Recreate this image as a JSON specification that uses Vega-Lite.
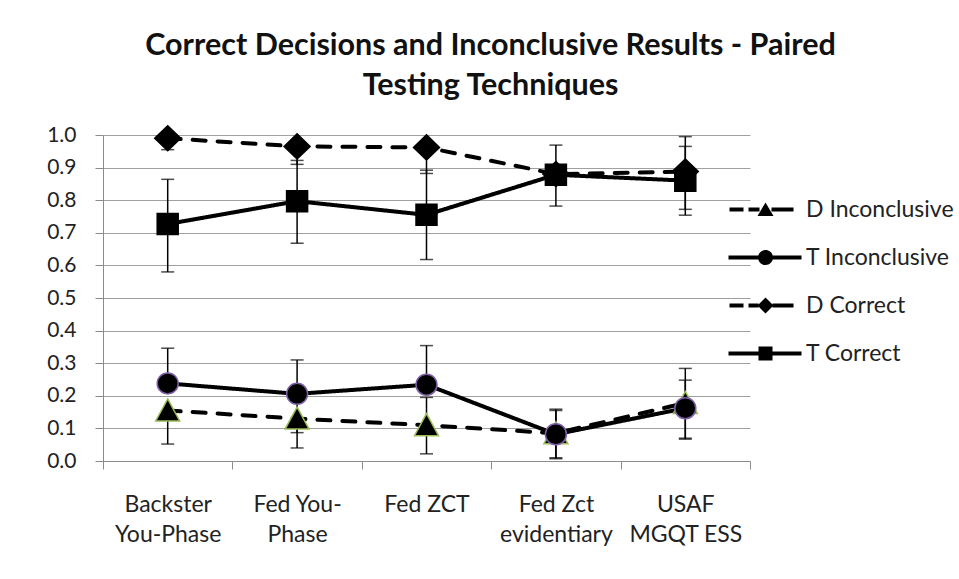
{
  "$schema": "https://vega.github.io/schema/vega-lite/v6.json",
  "width": 647,
  "height": 326,
  "autosize": {"type": "none"},
  "padding": {"left": 103, "top": 135, "right": 209, "bottom": 118},
  "background": "white",
  "title": {
    "text": ["Correct Decisions and Inconclusive Results - Paired", "Testing Techniques"],
    "font": "Lato", "fontSize": 30.5, "fontWeight": "bold", "color": "#111",
    "lineHeight": 40, "anchor": "middle", "frame": "group", "dx": 64, "offset": 21
  },
  "config": {
    "view": {"stroke": null},
    "axis": {"labelFont": "Lato", "labelFontSize": 23, "labelColor": "#222", "domainColor": "#8c8c8c", "tickColor": "#8c8c8c", "title": null},
    "axisY": {"labelFontSize": 21, "tickCount": 20, "labelOverlap": false, "tickSize": 8, "labelPadding": 19, "grid": true, "gridColor": "#a0a0a0", "gridWidth": 1}
  },
  "data": {
    "values": [
      {"cat": "Backster|You-Phase", "series": "D Inconclusive", "v": 0.155, "lo": 0.052, "hi": 0.155},
      {"cat": "Fed You-|Phase", "series": "D Inconclusive", "v": 0.13, "lo": 0.04, "hi": 0.13},
      {"cat": "Fed ZCT", "series": "D Inconclusive", "v": 0.11, "lo": 0.022, "hi": 0.195},
      {"cat": "Fed Zct|evidentiary", "series": "D Inconclusive", "v": 0.085, "lo": 0.01, "hi": 0.155},
      {"cat": "USAF|MGQT ESS", "series": "D Inconclusive", "v": 0.178, "lo": 0.07, "hi": 0.284},
      {"cat": "Backster|You-Phase", "series": "T Inconclusive", "v": 0.238, "lo": 0.238, "hi": 0.346},
      {"cat": "Fed You-|Phase", "series": "T Inconclusive", "v": 0.206, "lo": 0.087, "hi": 0.31},
      {"cat": "Fed ZCT", "series": "T Inconclusive", "v": 0.234, "lo": 0.234, "hi": 0.354},
      {"cat": "Fed Zct|evidentiary", "series": "T Inconclusive", "v": 0.082, "lo": 0.007, "hi": 0.159},
      {"cat": "USAF|MGQT ESS", "series": "T Inconclusive", "v": 0.162, "lo": 0.067, "hi": 0.248},
      {"cat": "Backster|You-Phase", "series": "D Correct", "v": 0.99, "lo": 0.955, "hi": 0.99},
      {"cat": "Fed You-|Phase", "series": "D Correct", "v": 0.965, "lo": 0.91, "hi": 0.965},
      {"cat": "Fed ZCT", "series": "D Correct", "v": 0.962, "lo": 0.882, "hi": 0.962},
      {"cat": "Fed Zct|evidentiary", "series": "D Correct", "v": 0.88, "lo": 0.88, "hi": 0.88},
      {"cat": "USAF|MGQT ESS", "series": "D Correct", "v": 0.888, "lo": 0.772, "hi": 0.995},
      {"cat": "Backster|You-Phase", "series": "T Correct", "v": 0.727, "lo": 0.58, "hi": 0.864},
      {"cat": "Fed You-|Phase", "series": "T Correct", "v": 0.797, "lo": 0.668, "hi": 0.922},
      {"cat": "Fed ZCT", "series": "T Correct", "v": 0.755, "lo": 0.618, "hi": 0.892},
      {"cat": "Fed Zct|evidentiary", "series": "T Correct", "v": 0.878, "lo": 0.782, "hi": 0.969},
      {"cat": "USAF|MGQT ESS", "series": "T Correct", "v": 0.86, "lo": 0.754, "hi": 0.965}
    ]
  },
  "encoding": {
    "x": {
      "field": "cat", "type": "nominal", "sort": null,
      "scale": {"type": "band", "paddingInner": 0, "paddingOuter": 0},
      "axis": {"labelExpr": "split(datum.label, '|')", "labelAngle": 0, "tickBand": "extent", "tickSize": 8, "labelPadding": 24, "labelLineHeight": 30, "labelBaseline": "top"}
    }
  },
  "layer": [
    {
      "mark": {"type": "rule", "color": "black", "strokeWidth": 1.5},
      "encoding": {
        "y": {
          "field": "lo", "type": "quantitative", "scale": {"domain": [0, 1], "nice": false},
          "axis": {"values": [0, 0.1, 0.2, 0.3, 0.4, 0.5, 0.6, 0.7, 0.8, 0.9, 1.0], "tickCount": 20, "format": ".1f"}
        },
        "y2": {"field": "hi"}
      }
    },
    {
      "mark": {"type": "tick", "color": "black", "thickness": 1.5, "size": 13},
      "encoding": {"y": {"field": "lo", "type": "quantitative", "axis": {"values": [0, 0.1, 0.2, 0.3, 0.4, 0.5, 0.6, 0.7, 0.8, 0.9, 1.0], "tickCount": 20, "format": ".1f"}}}
    },
    {
      "mark": {"type": "tick", "color": "black", "thickness": 1.5, "size": 13},
      "encoding": {"y": {"field": "hi", "type": "quantitative", "axis": {"values": [0, 0.1, 0.2, 0.3, 0.4, 0.5, 0.6, 0.7, 0.8, 0.9, 1.0], "tickCount": 20, "format": ".1f"}}}
    },
    {
      "mark": {"type": "line", "color": "black", "strokeWidth": 4, "strokeCap": "round"},
      "encoding": {
        "y": {"field": "v", "type": "quantitative", "axis": {"values": [0, 0.1, 0.2, 0.3, 0.4, 0.5, 0.6, 0.7, 0.8, 0.9, 1.0], "tickCount": 20, "format": ".1f"}},
        "detail": {"field": "series"},
        "strokeDash": {
          "field": "series", "type": "nominal",
          "scale": {"domain": ["D Inconclusive", "T Inconclusive", "D Correct", "T Correct"], "range": [[13, 12], [1, 0], [13, 12], [1, 0]]},
          "legend": null
        }
      }
    },
    {
      "mark": {"type": "point", "filled": true, "fill": "black", "strokeWidth": 1.5, "size": 100, "opacity": 1},
      "encoding": {
        "y": {"field": "v", "type": "quantitative", "axis": {"values": [0, 0.1, 0.2, 0.3, 0.4, 0.5, 0.6, 0.7, 0.8, 0.9, 1.0], "tickCount": 20, "format": ".1f"}},
        "shape": {
          "field": "series", "type": "nominal",
          "scale": {
            "domain": ["D Inconclusive", "T Inconclusive", "D Correct", "T Correct"],
            "range": [
              "M0,-2.3L2.4,2.1L-2.4,2.1Z",
              "M2.1,0A2.1,2.1 0 1,1 -2.1,0A2.1,2.1 0 1,1 2.1,0Z",
              "M0,-2.5L2.6,0L0,2.5L-2.6,0Z",
              "M-2.1,-2.1H2.1V2.1H-2.1Z"
            ]
          },
          "legend": null
        },
        "stroke": {
          "field": "series", "type": "nominal",
          "scale": {"domain": ["D Inconclusive", "T Inconclusive", "D Correct", "T Correct"], "range": ["#9bbb59", "#7f5fa8", "black", "black"]},
          "legend": null
        }
      }
    },
    {
      "mark": {"type": "point", "filled": true, "color": "black", "size": 100, "opacity": 0},
      "encoding": {
        "y": {"field": "v", "type": "quantitative", "axis": {"values": [0, 0.1, 0.2, 0.3, 0.4, 0.5, 0.6, 0.7, 0.8, 0.9, 1.0], "tickCount": 20, "format": ".1f"}},
        "shape": {
          "field": "series", "type": "nominal",
          "scale": {
            "domain": ["D Inconclusive", "T Inconclusive", "D Correct", "T Correct"],
            "range": [
              "M-7.2,-0.4H-4.4V0.4H-7.2ZM-3.4,-0.4H-1.2V0.4H-3.4ZM1.2,-0.4H5.6V0.4H1.2ZM0,-1.4L1.6,1.3L-1.6,1.3Z",
              "M-7.4,-0.4H-1.2V0.4H-7.4ZM1.2,-0.4H7.2V0.4H1.2ZM1.5,0A1.5,1.5 0 1,1 -1.5,0A1.5,1.5 0 1,1 1.5,0Z",
              "M-7.2,-0.4H-4.4V0.4H-7.2ZM-3.4,-0.4H-1.4V0.4H-3.4ZM1.4,-0.4H5.6V0.4H1.4ZM0,-1.6L1.6,0L0,1.6L-1.6,0Z",
              "M-7.4,-0.4H-1.4V0.4H-7.4ZM1.4,-0.4H7.2V0.4H1.4ZM-1.4,-1.4H1.4V1.4H-1.4Z"
            ]
          },
          "legend": {
            "orient": "none", "legendX": 651, "legendY": 63, "title": null, "padding": 0,
            "symbolSize": 100, "labelOffset": 29, "rowPadding": 24, "symbolOpacity": 1,
            "symbolStrokeWidth": 0, "symbolFillColor": "black",
            "labelFont": "Lato", "labelFontSize": 23, "labelColor": "#222"
          }
        }
      }
    }
  ],
  "resolve": {"scale": {"shape": "independent"}, "legend": {"shape": "independent"}}
}
